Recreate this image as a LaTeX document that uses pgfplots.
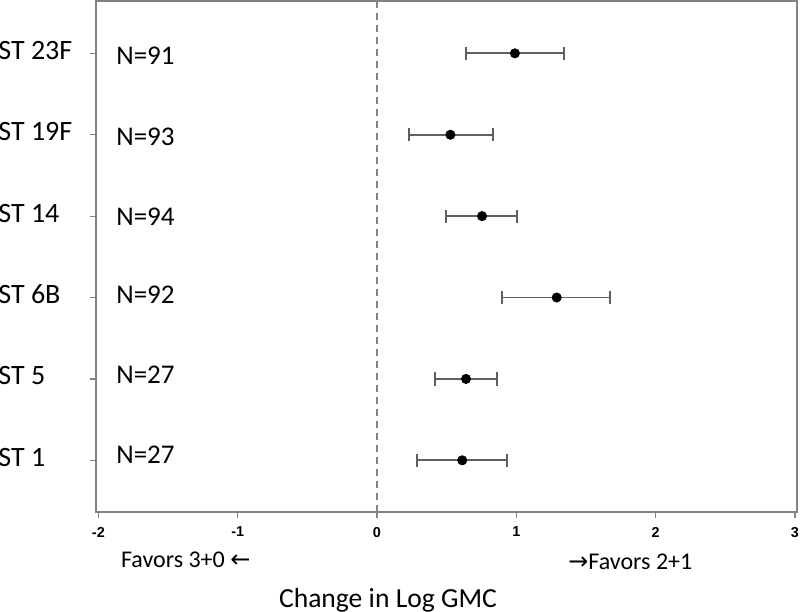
\documentclass[border=0pt]{standalone}
\usepackage{fontspec}
\setmainfont{Carlito}
\newfontfamily\ticksfont{Liberation Sans}
\newfontfamily\symfont{DejaVu Sans}
\usepackage{pgfplots}
\pgfplotsset{compat=1.18}

\definecolor{axisgray}{RGB}{130,130,130}
\definecolor{bargray}{RGB}{95,95,95}

% estimate and CI, y = row (1 = ST 1 at the bottom)
\pgfplotstableread{
y  est    ep     em
6  0.990  0.352  0.353
5  0.527  0.306  0.297
4  0.754  0.251  0.256
3  1.290  0.385  0.390
2  0.639  0.220  0.223
1  0.612  0.323  0.323
}\gmcdata

\begin{document}
\begin{tikzpicture}
\begin{axis}[
    scale only axis,
    width=350.5pt, height=255.5pt,
    xmin=-2.017, xmax=3.015,
    ymin=0.365, ymax=6.643,
    axis line style={axisgray, line width=0.75pt},
    xtick={-2,-1,0,1,2,3},
    ytick={1,2,3,4,5,6},
    yticklabels={ST 1, ST 5, ST 6B, ST 14, ST 19F, ST 23F},
    xtick pos=bottom, ytick pos=left,
    tick align=outside,
    major tick length=3pt,
    tick style={axisgray, line width=0.6pt},
    /pgf/number format/assume math mode=true,
    xticklabel style={font=\fontsize{7.2}{8}\selectfont\ticksfont\bfseries, yshift=-1pt},
    yticklabel style={font=\fontsize{14}{16}\selectfont, anchor=west, inner sep=0pt, xshift=-46pt, yshift=1.5pt},
    clip=false,
]
% no-effect line at 0
\addplot[axisgray, line width=0.6pt, dash pattern=on 3.5pt off 2.5pt] coordinates {(0,0.365) (0,6.643)};

\addplot[only marks, mark=*, mark size=2.3pt, black,
    error bars/.cd,
      x dir=both, x explicit,
      error bar style={bargray, line width=0.9pt},
      error mark options={bargray, line width=0.9pt, mark size=3.3pt, rotate=90},
] table[x=est, y=y, x error plus=ep, x error minus=em] {\gmcdata};

\begin{scope}[font=\fontsize{13.5}{16}\selectfont]
\node[anchor=west, inner sep=0pt] at (axis cs:-1.874,5.967) {N=91};
\node[anchor=west, inner sep=0pt] at (axis cs:-1.874,4.975) {N=93};
\node[anchor=west, inner sep=0pt] at (axis cs:-1.874,3.993) {N=94};
\node[anchor=west, inner sep=0pt] at (axis cs:-1.874,3.030) {N=92};
\node[anchor=west, inner sep=0pt] at (axis cs:-1.874,2.050) {N=27};
\node[anchor=west, inner sep=0pt] at (axis cs:-1.874,1.067) {N=27};
\end{scope}

\node[anchor=base west, inner sep=0pt, font=\fontsize{12}{14}\selectfont] at ([yshift=-27.7pt]axis cs:-1.84,0.365) {Favors 3+0 {\symfont ←}};
\node[anchor=base west, inner sep=0pt, font=\fontsize{12}{14}\selectfont] at ([yshift=-28.5pt]axis cs:1.371,0.365) {{\symfont →}Favors 2+1};
\node[anchor=base, inner sep=0pt, font=\fontsize{13.8}{16}\selectfont] at ([yshift=-47.5pt]axis cs:0.079,0.365) {Change in Log GMC};
\end{axis}
\pgfresetboundingbox
\path ([shift={(-48pt,-50pt)}]current axis.south west) rectangle ([shift={(1.5pt,0.5pt)}]current axis.north east);
\end{tikzpicture}
\end{document}
